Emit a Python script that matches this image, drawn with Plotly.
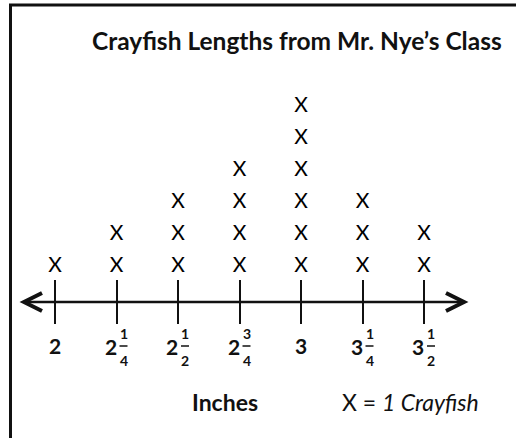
import plotly.graph_objects as go

# ---- data ----
lengths = [2.0, 2.25, 2.5, 2.75, 3.0, 3.25, 3.5]
counts = [1, 2, 3, 4, 6, 3, 2]
whole_labels = ["2", "2", "2", "2", "3", "3", "3"]
num_labels = ["", "1", "1", "3", "", "1", "1"]
den_labels = ["", "4", "2", "4", "", "4", "2"]
title_text = "Crayfish Lengths from Mr. Nye\u2019s Class"
axis_title = "Inches"
key_text = "X = <i>1 Crayfish</i>"

W, H = 516, 438
# pixel mapping helpers (layout only)
X0_PX, X_SCALE = 55, 246.0     # px of first tick, px per inch
Y1_PX, Y_SCALE = 267, 32.0     # px of first row, px per row

x_lo = lengths[0] - X0_PX / X_SCALE
x_hi = lengths[0] + (W - X0_PX) / X_SCALE
y_hi = 1 + Y1_PX / Y_SCALE
y_lo = 1 - (H - Y1_PX) / Y_SCALE


def px(xp):
    return xp / W


def py(yp):
    return 1 - yp / H


FONT = "Lato"
INK = "#111111"

xs, ys = [], []
for L, c in zip(lengths, counts):
    for k in range(1, c + 1):
        xs.append(L)
        ys.append(k)

fig = go.Figure()
fig.add_trace(go.Scatter(
    x=xs, y=ys, mode="text", text=["X"] * len(xs),
    textposition="middle center",
    textfont=dict(family=FONT, size=21, color="#000000"),
    hoverinfo="skip", showlegend=False,
))

annotations = []
shapes = []


def ann(x, y, text, size, xref="paper", xshift=0):
    return dict(x=x, y=y, xref=xref, yref="paper", text=text, showarrow=False,
                xanchor="center", yanchor="middle", xshift=xshift,
                font=dict(family=FONT, size=size, color=INK))


# tick labels (whole number + stacked fraction)
for L, w, n, d in zip(lengths, whole_labels, num_labels, den_labels):
    if n:
        annotations.append(ann(L, py(346), f"<b>{w}</b>", 21, xref="x", xshift=-6))
        annotations.append(ann(L, py(333), f"<b>{n}</b>", 14, xref="x", xshift=7))
        annotations.append(ann(L, py(360), f"<b>{d}</b>", 14, xref="x", xshift=7))
        shapes.append(dict(type="line", xref="x", xsizemode="pixel", xanchor=L,
                           x0=3, x1=11, yref="paper", y0=py(346), y1=py(346),
                           line=dict(color=INK, width=1.5)))
    else:
        annotations.append(ann(L, py(345), f"<b>{w}</b>", 21, xref="x"))

annotations.append(ann(px(297), py(41), f"<b>{title_text}</b>", 24.5))
annotations.append(ann(px(225), py(402), f"<b>{axis_title}</b>", 23))
annotations.append(ann(px(410), py(402), key_text, 23))

# number line with arrowheads
line_y = 302
shapes.append(dict(type="line", xref="paper", yref="paper", x0=px(25), x1=px(463),
                   y0=py(line_y), y1=py(line_y), line=dict(color=INK, width=2.5)))
for tip, back in [(24, 42), (464, 446)]:
    path = (f"M {px(back)} {py(line_y - 9)} L {px(tip)} {py(line_y)} "
            f"L {px(back)} {py(line_y + 9)}")
    shapes.append(dict(type="path", xref="paper", yref="paper", path=path,
                       line=dict(color=INK, width=4)))

# frame (top and left)
shapes.append(dict(type="line", xref="paper", yref="paper", x0=px(9), x1=px(W),
                   y0=py(5), y1=py(5), line=dict(color=INK, width=3)))
shapes.append(dict(type="line", xref="paper", yref="paper", x0=px(10.5), x1=px(10.5),
                   y0=py(4), y1=py(H), line=dict(color=INK, width=3)))

fig.update_layout(
    width=W, height=H,
    margin=dict(l=0, r=0, t=0, b=0),
    paper_bgcolor="white", plot_bgcolor="white",
    annotations=annotations, shapes=shapes,
    xaxis=dict(range=[x_lo, x_hi], tickvals=lengths, showticklabels=False,
               ticks="inside", ticklen=44, tickwidth=1.5, tickcolor=INK,
               showgrid=False, zeroline=False, showline=False,
               anchor="free", position=py(324), fixedrange=True),
    yaxis=dict(range=[y_lo, y_hi], visible=False, showgrid=False, zeroline=False, fixedrange=True),
    showlegend=False,
)

fig.write_html("out.html", config={"displayModeBar": False},
               post_script="document.body.style.margin='0';document.body.style.overflow='hidden';")
